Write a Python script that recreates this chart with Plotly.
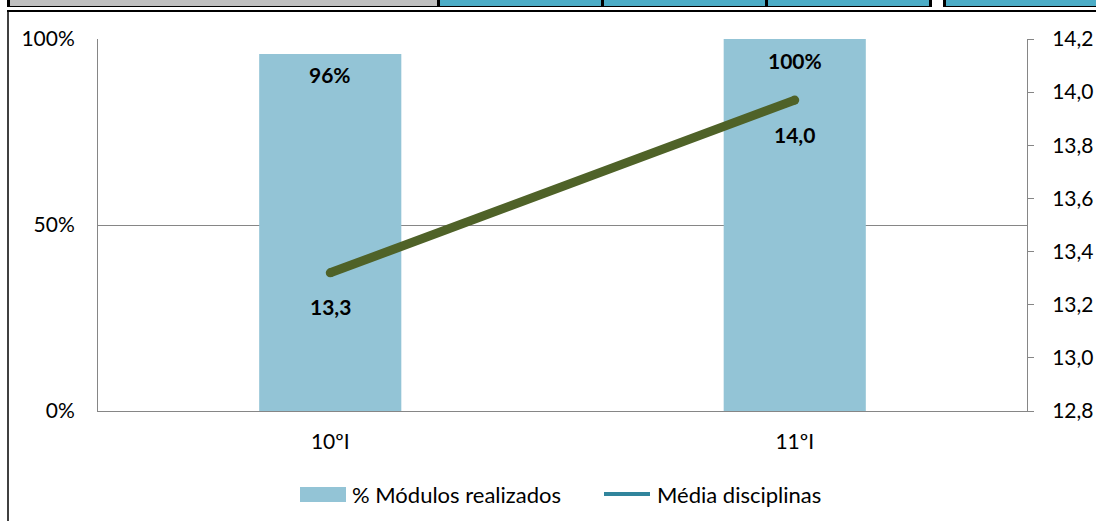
import plotly.graph_objects as go

# ---------------- data ----------------
categories = ["10ºI", "11ºI"]
modulos_pct = [0.96, 1.00]          # % Módulos realizados (left axis)
media_disciplinas = [13.32, 13.97]  # Média disciplinas (right axis)
pct_ticks = [0.0, 0.5, 1.0]
media_ticks = [12.8, 13.0, 13.2, 13.4, 13.6, 13.8, 14.0, 14.2]
legend_labels = ["% Módulos realizados", "Média disciplinas"]

# ---------------- layout geometry ----------------
W, H = 1096, 521
ML, MR, MT, MB = 98, 69, 39, 110
PW = W - ML - MR
PH = H - MT - MB


def fx(p):
    return (p - ML) / PW


def fy(p):
    return (H - MB - p) / PH


FONT = "Lato"
FS = 22
BAR_COLOR = "#93C4D6"
LINE_COLOR = "#4F6228"
LEG_LINE_COLOR = "#31859C"
GRID = "#868686"

fig = go.Figure()

fig.add_trace(go.Bar(
    x=categories, y=modulos_pct, name=legend_labels[0],
    marker=dict(color=BAR_COLOR, line=dict(width=0)),
    showlegend=False, hoverinfo="skip",
))
fig.add_trace(go.Scatter(
    x=categories, y=media_disciplinas, name=legend_labels[1], yaxis="y2",
    mode="lines+markers",
    line=dict(color=LINE_COLOR, width=9),
    marker=dict(color=LINE_COLOR, size=9),
    showlegend=False, hoverinfo="skip",
))

annotations = []
for c, v in zip(categories, modulos_pct):
    annotations.append(dict(
        x=c, y=v, xref="x", yref="y", text=f"<b>{round(v * 100)}%</b>",
        showarrow=False, yshift=-21, font=dict(family=FONT, size=FS - 1, color="#000"),
    ))
for c, v in zip(categories, media_disciplinas):
    annotations.append(dict(
        x=c, y=v, xref="x", yref="y2", text=f"<b>{v:.1f}</b>".replace(".", ","),
        showarrow=False, yshift=-34, font=dict(family=FONT, size=FS - 1, color="#000"),
    ))

# manual legend (Excel style)
annotations.append(dict(
    x=fx(350), y=fy(494), xref="paper", yref="paper", text=legend_labels[0],
    xanchor="left", yanchor="middle", showarrow=False,
    font=dict(family=FONT, size=FS, color="#000"),
))
annotations.append(dict(
    x=fx(655), y=fy(494), xref="paper", yref="paper", text=legend_labels[1],
    xanchor="left", yanchor="middle", showarrow=False,
    font=dict(family=FONT, size=FS, color="#000"),
))

shapes = []


def rect(x0, x1, y0, y1, color):
    shapes.append(dict(
        type="rect", xref="paper", yref="paper",
        x0=fx(x0), x1=fx(x1), y0=fy(y1), y1=fy(y0),
        fillcolor=color, line=dict(width=0), layer="above",
    ))


# legend swatches
rect(300, 346, 487, 502, BAR_COLOR)
shapes.append(dict(
    type="line", xref="paper", yref="paper",
    x0=fx(604), x1=fx(650), y0=fy(494), y1=fy(494),
    line=dict(color=LEG_LINE_COLOR, width=4), layer="above",
))

# spreadsheet strip at the top
rect(7, 440, 0, 7, "#000000")
rect(10, 437, 0, 6, "#C0C0C0")
rect(437, 932, 0, 7, "#000000")
rect(440, 601, 0, 6, "#4BACC6")
rect(604, 765, 0, 6, "#4BACC6")
rect(768, 929, 0, 6, "#4BACC6")
rect(943, 1096, 0, 7, "#000000")
rect(946, 1096, 0, 6, "#4BACC6")
# chart frame
rect(7, 1096, 10, 12, "#000000")
rect(7, 9, 12, 521, "#404040")

fig.update_layout(
    width=W, height=H, autosize=False,
    margin=dict(l=ML, r=MR, t=MT, b=MB, pad=0, autoexpand=False),
    paper_bgcolor="white", plot_bgcolor="white",
    separators=",.",
    bargap=0.694,
    showlegend=False,
    font=dict(family=FONT, size=FS, color="#000"),
    xaxis=dict(
        range=[-0.5, 1.5], showgrid=False, zeroline=False, automargin=False,
        showline=True, linecolor=GRID, linewidth=1, ticks="",
        ticklabelstandoff=12, tickfont=dict(family=FONT, size=FS - 1, color="#000"),
        fixedrange=True,
    ),
    yaxis=dict(
        range=[0, 1], tickvals=pct_ticks, tickformat=".0%", automargin=False,
        showgrid=True, gridcolor=GRID, gridwidth=1, zeroline=False,
        showline=True, linecolor=GRID, linewidth=1, ticks="",
        ticklabelstandoff=18, tickfont=dict(family=FONT, size=FS - 1, color="#000"),
        fixedrange=True,
    ),
    yaxis2=dict(
        range=[12.8, 14.2], tickvals=media_ticks, tickformat=".1f", automargin=False,
        overlaying="y", side="right", showgrid=False, zeroline=False,
        showline=True, linecolor=GRID, linewidth=1,
        ticks="outside", ticklen=6, tickcolor=GRID,
        ticklabelstandoff=14, tickfont=dict(family=FONT, size=FS - 1, color="#000"),
        fixedrange=True,
    ),
    annotations=annotations,
    shapes=shapes,
)

fig.write_html(
    "out.html",
    config={"responsive": False, "displayModeBar": False, "staticPlot": True},
    post_script=(
        "document.body.style.margin='0px';"
        "document.documentElement.style.overflow='hidden';"
        "document.body.style.overflow='hidden';"
    ),
)
